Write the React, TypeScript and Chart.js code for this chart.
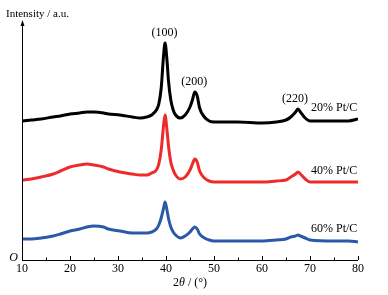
import React, { useEffect, useRef } from "react";
import { Chart, registerables } from "chart.js";

Chart.register(...registerables);

const twoTheta = [10, 12, 14, 16.5, 18, 20, 22, 23.5, 25, 27, 28, 30.4, 33, 34.6, 36, 37, 38, 38.5, 39, 39.5, 39.8, 40.2, 40.5, 41, 41.5, 42, 43, 44, 45, 45.5, 46, 46.5, 47, 48, 49, 50, 55, 60, 63, 65, 66, 67, 67.5, 68, 69, 70, 75, 78, 80];

const pt20 = [139, 140, 141, 143, 144, 146, 147, 148, 148, 147, 146, 145, 143, 142, 143, 145, 150, 156, 172, 205, 217, 200, 180, 160, 150, 145, 142, 145, 153, 160, 168, 164, 152, 143, 139, 138, 138, 137, 138, 140, 143, 148, 151, 148, 142, 139, 139, 139, 141];
const pt40 = [80, 81, 83, 86, 89, 93, 95, 96, 95, 93, 91, 88, 86, 85, 85, 87, 90, 96, 110, 135, 145, 130, 115, 98, 90, 85, 81, 83, 90, 96, 101, 98, 89, 82, 79, 78, 78, 78, 79, 80, 83, 86, 88, 86, 81, 78, 78, 78, 78];
const pt60 = [21, 21, 22, 24, 26, 29, 31, 33, 34, 33, 31, 29, 27, 27, 27, 28, 31, 35, 42, 52, 58, 50, 42, 33, 28, 25, 22, 24, 28, 31, 33, 31, 26, 22, 20, 19, 19, 19, 20, 21, 23, 24, 25, 24, 22, 20, 19, 19, 18];

const seriesNames = ["20% Pt/C", "40% Pt/C", "60% Pt/C"];
const seriesColors = ["#000000", "#ee2b2b", "#2c58a8"];
const seriesValues = [pt20, pt40, pt60];
const seriesLabelX = [70.2, 70.2, 70.2];
const seriesLabelY = [152, 89, 31];

const peakLabels = ["(100)", "(200)", "(220)"];
const peakLabelX = [39.7, 45.9, 66.9];
const peakLabelY = [227, 178, 161];

const xTicks = [10, 20, 30, 40, 50, 60, 70, 80];
const xMinorTicks = [15, 25, 35, 45, 55, 65, 75];

const SERIF = "'Liberation Serif', 'DejaVu Serif', serif";

const decor = {
  id: "decor",
  afterDraw(chart: any) {
    const { ctx, chartArea, scales } = chart;
    const xs = scales.x;
    const ys = scales.y;
    const left = chartArea.left;
    const bottom = chartArea.bottom;
    ctx.save();
    ctx.strokeStyle = "#000";
    ctx.fillStyle = "#000";
    ctx.lineWidth = 1;
    // x axis
    ctx.beginPath();
    ctx.moveTo(left, bottom + 0.5);
    ctx.lineTo(chartArea.right, bottom + 0.5);
    ctx.stroke();
    // y axis with arrow
    ctx.beginPath();
    ctx.moveTo(left + 0.5, bottom);
    ctx.lineTo(left + 0.5, chartArea.top + 2);
    ctx.stroke();
    ctx.beginPath();
    ctx.moveTo(left + 0.5, chartArea.top - 2);
    ctx.lineTo(left - 1.5, chartArea.top + 4);
    ctx.lineTo(left + 2.5, chartArea.top + 4);
    ctx.closePath();
    ctx.fill();
    // ticks inward
    xTicks.forEach((t) => {
      const px = Math.round(xs.getPixelForValue(t)) + 0.5;
      ctx.beginPath();
      ctx.moveTo(px, bottom);
      ctx.lineTo(px, bottom - 4);
      ctx.stroke();
    });
    xMinorTicks.forEach((t) => {
      const px = Math.round(xs.getPixelForValue(t)) + 0.5;
      ctx.beginPath();
      ctx.moveTo(px, bottom);
      ctx.lineTo(px, bottom - 2.5);
      ctx.stroke();
    });
    // origin
    ctx.font = "italic 12px " + SERIF;
    ctx.textAlign = "right";
    ctx.textBaseline = "middle";
    ctx.fillText("O", left - 4, bottom - 2);
    // x title with italic theta
    const cx = (chartArea.left + chartArea.right) / 2;
    const ty = 283;
    const partA = "2";
    const partB = "θ";
    const partC = " / (°)";
    ctx.font = "12px " + SERIF;
    const wA = ctx.measureText(partA).width;
    const wC = ctx.measureText(partC).width;
    ctx.font = "italic 12px " + SERIF;
    const wB = ctx.measureText(partB).width;
    let sx = cx - (wA + wB + wC) / 2;
    ctx.textAlign = "left";
    ctx.font = "12px " + SERIF;
    ctx.fillText(partA, sx, ty);
    sx += wA;
    ctx.font = "italic 12px " + SERIF;
    ctx.fillText(partB, sx, ty);
    sx += wB;
    ctx.font = "12px " + SERIF;
    ctx.fillText(partC, sx, ty);
    // y title
    ctx.font = "11px " + SERIF;
    ctx.textAlign = "left";
    ctx.fillText("Intensity / a.u.", 6, 14);
    // peak labels
    ctx.font = "12px " + SERIF;
    ctx.textAlign = "center";
    peakLabels.forEach((s, i) => {
      ctx.fillText(s, xs.getPixelForValue(peakLabelX[i]), ys.getPixelForValue(peakLabelY[i]));
    });
    ctx.textAlign = "left";
    seriesNames.forEach((s, i) => {
      ctx.fillText(s, xs.getPixelForValue(seriesLabelX[i]), ys.getPixelForValue(seriesLabelY[i]));
    });
    ctx.restore();
  },
};

export default function App() {
  const ref = useRef<HTMLCanvasElement | null>(null);
  useEffect(() => {
    if (!ref.current) return;
    const chart = new Chart(ref.current, {
      type: "line",
      data: {
        datasets: seriesValues.map((vals, i) => ({
          label: seriesNames[i],
          data: vals.map((v, j) => ({ x: twoTheta[j], y: v })),
          borderColor: seriesColors[i],
          borderWidth: 3,
          pointRadius: 0,
          cubicInterpolationMode: "monotone" as const,
          fill: false,
        })),
      },
      options: {
        responsive: false,
        animation: false,
        layout: { padding: { left: 22, right: 30, top: 22, bottom: 0 } },
        plugins: { legend: { display: false }, tooltip: { enabled: false } },
        scales: {
          x: {
            type: "linear",
            min: 10,
            max: 80,
            grid: { display: false, drawTicks: false },
            border: { display: false },
            ticks: {
              stepSize: 10,
              padding: 2,
              color: "#000",
              font: { family: SERIF, size: 12 },
            },
            title: { display: false },
            afterFit: (scale: any) => {
              scale.height = 35;
            },
          },
          y: {
            display: false,
            min: 0,
            max: 238,
          },
        },
      },
      plugins: [decor],
    });
    return () => chart.destroy();
  }, []);
  return (
    <div style={{ position: "fixed", left: 0, top: 0, width: 388, height: 295, background: "#fff" }}>
      <canvas ref={ref} width={388} height={295} />
    </div>
  );
}
